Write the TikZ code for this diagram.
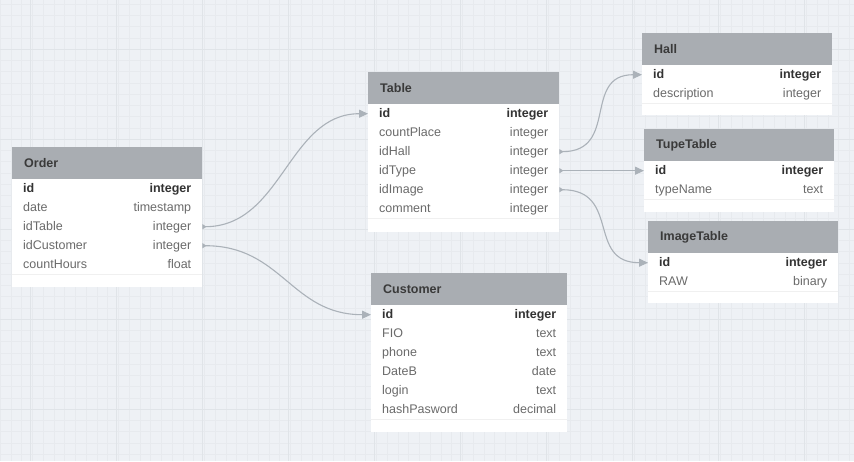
\documentclass[tikz,border=0pt]{standalone}
\usepackage{fontspec}
\setmainfont{Liberation Sans}
\usetikzlibrary{arrows.meta,positioning}

\definecolor{bgcol}{HTML}{EEF1F5}
\definecolor{gridminor}{HTML}{E7EAEE}
\definecolor{gridmajor}{HTML}{E0E4E8}
\definecolor{hdrcol}{HTML}{A9ADB2}
\definecolor{hdrtext}{HTML}{3A3A3A}
\definecolor{keytext}{HTML}{333333}
\definecolor{rowtext}{HTML}{6A6A6A}
\definecolor{sepcol}{HTML}{F0F0F0}
\definecolor{linkcol}{HTML}{ABB2B9}

\tikzset{
  header/.style={anchor=north west, fill=hdrcol, minimum height=32pt, inner xsep=12pt,
    text=hdrtext, font=\fontsize{12.5}{15}\selectfont\bfseries},
  fieldrow/.style={anchor=north west, fill=white, minimum height=19pt, inner xsep=11pt,
    inner ysep=0pt, text height=9.5pt, text depth=2.5pt, text=rowtext,
    font=\fontsize{12.5}{15}\selectfont,
    path picture={\draw[sepcol, line width=1.4pt] (path picture bounding box.south west)
      -- (path picture bounding box.south east);}},
  keyrow/.style={fieldrow, text=keytext, font=\fontsize{12.5}{15}\selectfont\bfseries},
  link/.style={draw=linkcol, line width=1.1pt,
    {Triangle[reversed,length=4pt,width=5pt]}-{Triangle[length=9pt,width=8pt]}},
}

\begin{document}
\begin{tikzpicture}[x=1pt, y=-1pt]
    \useasboundingbox (0,0) rectangle (854,461);

    % Background grid
    \fill[bgcol] (0,0) rectangle (854,461);
    \foreach \x in {0,10.75,...,854} \draw[gridminor, line width=0.4pt] (\x,0) -- (\x,461);
    \foreach \y in {4,15.25,...,461} \draw[gridminor, line width=0.4pt] (0,\y) -- (854,\y);
    \foreach \x in {30,116,...,854} \draw[gridmajor, line width=0.5pt] (\x,0) -- (\x,461);
    \foreach \y in {49,139,...,461} \draw[gridmajor, line width=0.5pt] (0,\y) -- (854,\y);

    % Order
    \begin{scope}[shift={(12,147)}]
      \fill[white] (0,0) rectangle (190,140);
      \node[header, text width=166pt] (order) at (0,0) {Order};
      \node[keyrow, text width=168pt] (order-id) at (0,32) {id\hfill integer};
      \foreach \f/\t [count=\i] in {date/timestamp, idTable/integer, idCustomer/integer, countHours/float}
        \node[fieldrow, text width=168pt] (order-\f) at (0,32+19*\i) {\f\hfill\t};
    \end{scope}

    % Table
    \begin{scope}[shift={(368,72)}]
      \fill[white] (0,0) rectangle (191,160);
      \node[header, text width=167pt] (table) at (0,0) {Table};
      \node[keyrow, text width=169pt] (table-id) at (0,32) {id\hfill integer};
      \foreach \f/\t [count=\i] in {countPlace/integer, idHall/integer, idType/integer, idImage/integer, comment/integer}
        \node[fieldrow, text width=169pt] (table-\f) at (0,32+19*\i) {\f\hfill\t};
    \end{scope}

    % Customer
    \begin{scope}[shift={(371,273)}]
      \fill[white] (0,0) rectangle (196,159);
      \node[header, text width=172pt] (customer) at (0,0) {Customer};
      \node[keyrow, text width=174pt] (customer-id) at (0,32) {id\hfill integer};
      \foreach \f/\t [count=\i] in {FIO/text, phone/text, DateB/date, login/text, hashPasword/decimal}
        \node[fieldrow, text width=174pt] (customer-\f) at (0,32+19*\i) {\f\hfill\t};
    \end{scope}

    % Hall
    \begin{scope}[shift={(642,33)}]
      \fill[white] (0,0) rectangle (190,82);
      \node[header, text width=166pt] (hall) at (0,0) {Hall};
      \node[keyrow, text width=168pt] (hall-id) at (0,32) {id\hfill integer};
      \node[fieldrow, text width=168pt] (hall-description) at (0,51) {description\hfill integer};
    \end{scope}

    % TupeTable
    \begin{scope}[shift={(644,129)}]
      \fill[white] (0,0) rectangle (190,83);
      \node[header, text width=166pt] (tupe) at (0,0) {TupeTable};
      \node[keyrow, text width=168pt] (tupe-id) at (0,32) {id\hfill integer};
      \node[fieldrow, text width=168pt] (tupe-typeName) at (0,51) {typeName\hfill text};
    \end{scope}

    % ImageTable
    \begin{scope}[shift={(648,221)}]
      \fill[white] (0,0) rectangle (190,82);
      \node[header, text width=166pt] (image) at (0,0) {ImageTable};
      \node[keyrow, text width=168pt] (image-id) at (0,32) {id\hfill integer};
      \node[fieldrow, text width=168pt] (image-RAW) at (0,51) {RAW\hfill binary};
    \end{scope}

    % Relations
    \draw[link] (order-idTable.east) .. controls +(80,0) and +(-80,0) .. (table-id.west);
    \draw[link] (order-idCustomer.east) .. controls +(80,0) and +(-80,0) .. (customer-id.west);
    \draw[link] (table-idHall.east) .. controls +(60,0) and +(-60,0) .. (hall-id.west);
    \draw[link] (table-idType.east) -- (tupe-id.west);
    \draw[link] (table-idImage.east) .. controls +(62,0) and +(-62,0) .. (image-id.west);
\end{tikzpicture}
\end{document}
